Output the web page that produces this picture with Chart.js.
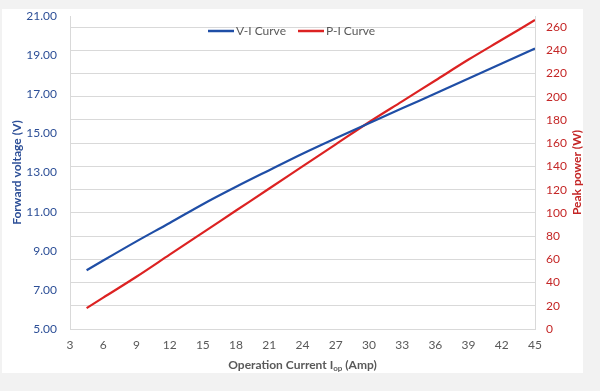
<!DOCTYPE html>
<html>
<head>
<meta charset="utf-8">
<script src="https://cdn.jsdelivr.net/npm/chart.js@4.4.1/dist/chart.umd.min.js"></script>
<style>
  html, body { margin: 0; padding: 0; background: #f2f2f2; }
  #wrap { position: relative; width: 600px; height: 391px; }
  #card { position: absolute; left: 2px; top: 9px; width: 581px; height: 364px; background: #fff; }
  canvas { position: absolute; left: 0; top: 0; }
</style>
</head>
<body>
<div id="wrap">
  <div id="card"></div>
  <canvas id="myChart" width="600" height="391"></canvas>
</div>
<script>
// operating current (A)
const current = [4.5, 6, 9, 12, 15, 18, 21, 24, 27, 30, 33, 36, 39, 42, 45];
// forward voltage (V)
const voltage = [8.00, 8.50, 9.48, 10.42, 11.38, 12.27, 13.12, 13.96, 14.75, 15.52, 16.28, 17.04, 17.80, 18.57, 19.34];
// peak power (W)
const power = [18, 27, 45, 64, 83, 102, 121, 140, 159, 178, 196, 214, 232, 249, 266];

const seriesNames = ["V-I Curve", "P-I Curve"];
const blue = "#1f4ea6";
const red = "#dc2222";
const FONT = "Lato";

const titlesPlugin = {
  id: "titles",
  afterDraw(chart) {
    const ctx = chart.ctx;
    const area = chart.chartArea;
    const midY = (area.top + area.bottom) / 2;
    const midX = (area.left + area.right) / 2;
    ctx.save();
    ctx.textBaseline = "middle";
    ctx.textAlign = "center";
    ctx.font = "bold 12px " + FONT;

    // left axis title
    ctx.save();
    ctx.fillStyle = "#2d4f97";
    ctx.translate(17, midY);
    ctx.rotate(-Math.PI / 2);
    ctx.fillText("Forward voltage (V)", 0, 0);
    ctx.restore();

    // right axis title
    ctx.save();
    ctx.fillStyle = "#c42626";
    ctx.translate(577, midY);
    ctx.rotate(-Math.PI / 2);
    ctx.fillText("Peak power (W)", 0, 0);
    ctx.restore();

    // x axis title with subscript
    ctx.fillStyle = "#595959";
    const a = "Operation Current I";
    const b = "op";
    const c = " (Amp)";
    const wa = ctx.measureText(a).width;
    const wc = ctx.measureText(c).width;
    ctx.font = "bold 8px " + FONT;
    const wb = ctx.measureText(b).width;
    const total = wa + wb + wc;
    let x = midX - total / 2;
    const y = 365;
    ctx.textAlign = "left";
    ctx.font = "bold 12px " + FONT;
    ctx.fillText(a, x, y);
    x += wa;
    ctx.font = "bold 8px " + FONT;
    ctx.fillText(b, x, y + 3);
    x += wb;
    ctx.font = "bold 12px " + FONT;
    ctx.fillText(c, x, y);

    // legend
    ctx.font = "12px " + FONT;
    ctx.lineWidth = 2.5;
    const items = [[seriesNames[0], blue, 208], [seriesNames[1], red, 298]];
    items.forEach(([name, col, lx]) => {
      ctx.strokeStyle = col;
      ctx.beginPath();
      ctx.moveTo(lx, 31);
      ctx.lineTo(lx + 26, 31);
      ctx.stroke();
      ctx.fillStyle = "#595959";
      ctx.fillText(name, lx + 28, 31);
    });
    ctx.restore();
  }
};

new Chart(document.getElementById("myChart").getContext("2d"), {
  type: "line",
  data: {
    datasets: [
      {
        label: seriesNames[0],
        data: current.map((c, i) => ({ x: c, y: voltage[i] })),
        borderColor: blue,
        borderWidth: 2.2,
        pointRadius: 0,
        cubicInterpolationMode: "monotone",
        yAxisID: "y",
      },
      {
        label: seriesNames[1],
        data: current.map((c, i) => ({ x: c, y: power[i] })),
        borderColor: red,
        borderWidth: 2.2,
        pointRadius: 0,
        cubicInterpolationMode: "monotone",
        yAxisID: "y1",
      },
    ],
  },
  options: {
    responsive: false,
    animation: false,
    layout: { padding: { top: 16, left: 0, right: 0, bottom: 0 } },
    plugins: { legend: { display: false }, tooltip: { enabled: false } },
    scales: {
      x: {
        type: "linear",
        min: 3,
        max: 45,
        afterFit(scale) { scale.height = 62; scale.paddingLeft = 0; scale.paddingRight = 0; },
        grid: { display: false, drawTicks: false },
        border: { color: "#d9d9d9", width: 1 },
        ticks: { stepSize: 3, padding: 9, color: "#595959", font: { family: FONT, size: 12 } },
      },
      y: {
        position: "left",
        min: 5,
        max: 21,
        afterFit(scale) { scale.width = 70; scale.paddingTop = 0; scale.paddingBottom = 0; },
        grid: { display: false, drawTicks: false },
        border: { color: "#d9d9d9", width: 1 },
        ticks: {
          stepSize: 2,
          padding: 13,
          color: "#2d4f97",
          font: { family: FONT, size: 12 },
          callback: (v) => v.toFixed(2),
        },
      },
      y1: {
        position: "right",
        min: 0,
        max: 269.5,
        afterFit(scale) { scale.width = 65; scale.paddingTop = 0; scale.paddingBottom = 0; },
        grid: { color: "#d9d9d9", drawTicks: false },
        border: { color: "#d9d9d9", width: 1 },
        ticks: {
          stepSize: 20,
          includeBounds: false,
          padding: 11,
          color: "#c42626",
          font: { family: FONT, size: 12 },
        },
      },
    },
  },
  plugins: [titlesPlugin],
});
</script>
</body>
</html>
